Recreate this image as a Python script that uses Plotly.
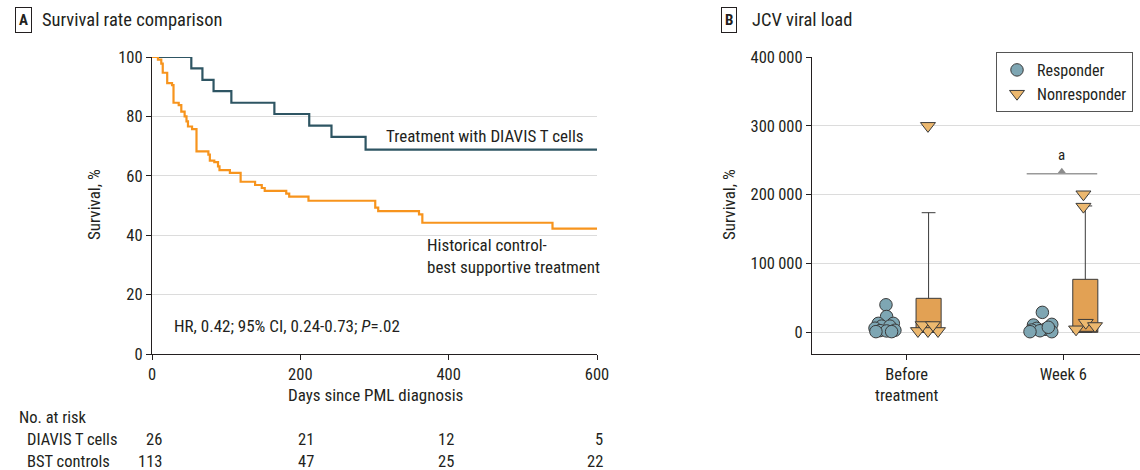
import plotly.graph_objects as go

# ---------------- Panel A data ----------------
diavis_days = [0, 53, 68, 83, 107, 165, 212, 242, 288, 600]
diavis_surv = [100, 96.2, 92.3, 88.5, 84.6, 80.8, 76.9, 73.1, 68.8, 68.8]

bst_days = [0, 8, 12.5, 14.5, 20.5, 27, 29, 36, 39.5, 44, 46.5, 48.5, 54, 60, 76, 78, 84, 89, 91,
            105, 119.5, 139, 148, 152, 181, 185, 211, 301, 305, 360, 364.5, 540, 600]
bst_surv = [100, 99.1, 97.8, 94.7, 91.2, 90.5, 84.6, 83.8, 81.6, 80.0, 78.3, 76.6, 75.7, 68.2, 67.1,
            65.1, 64.6, 63.2, 61.9, 61.0, 58.0, 56.9, 55.9, 54.9, 54.0, 53.0, 51.6, 49.3, 48.1, 47.0,
            44.2, 42.2, 42.2]

risk_days = [0, 200, 400, 600]
risk_diavis = [26, 21, 12, 5]
risk_bst = [113, 47, 25, 22]

# ---------------- Panel B data ----------------
categories = ["Before<br>treatment", "Week 6"]
resp_before = [40000, 23000, 13000, 13000, 9000, 9000, 6000, 2500, 2000, 3000, 1000, 1000]
resp_before_jit = [-0.132, -0.128, -0.181, -0.085, -0.160, -0.107, -0.202, -0.170, -0.128, -0.075, -0.196, -0.096]
resp_week6 = [29000, 11600, 10600, 5800, 4400, 3300, 2300, 900, 900, 7300]
resp_week6_jit = [-0.134, -0.074, -0.191, -0.170, -0.117, -0.202, -0.149, -0.074, -0.213, -0.096]
non_before = [300000, 2000, 2000, 2000, 10600, 10600]
non_before_jit = [0.136, 0.072, 0.136, 0.200, 0.102, 0.168]
non_week6 = [200600, 182600, 4400, 14000, 9200]
non_week6_jit = [0.128, 0.128, 0.081, 0.143, 0.202]
box_q3 = [49400, 77000]
box_upper = [173800, 183600]

FONT = "Liberation Sans Narrow, Arial Narrow, Roboto Condensed, DejaVu Sans Condensed, sans-serif"
TXT = "#231f20"
BLUE = "#2e5563"
ORANGE = "#f7941d"
CIRC = "#7ea6b3"
TRI = "#ecb86f"
BOXF = "#e2a154"
EDGE = "#3a3a3a"
FS = 16.5

fig = go.Figure()

# Panel A
fig.add_trace(go.Scatter(x=diavis_days, y=diavis_surv, mode="lines", line=dict(color=BLUE, width=2.2, shape="hv"),
                         showlegend=False, xaxis="x", yaxis="y"))
fig.add_trace(go.Scatter(x=bst_days, y=bst_surv, mode="lines", line=dict(color=ORANGE, width=2.2, shape="hv"),
                         showlegend=False, xaxis="x", yaxis="y"))

# Panel B boxes
for i in range(2):
    fig.add_trace(go.Box(x=[i + 0.14], q1=[0], median=[0], q3=[box_q3[i]], lowerfence=[0],
                         upperfence=[box_upper[i]], width=0.16, whiskerwidth=0.55,
                         fillcolor=BOXF, line=dict(color=EDGE, width=1), boxpoints=False,
                         showlegend=False, xaxis="x2", yaxis="y2", hoverinfo="skip"))

rx = [j for j in resp_before_jit] + [1 + j for j in resp_week6_jit]
ry = resp_before + resp_week6
nx = [j for j in non_before_jit] + [1 + j for j in non_week6_jit]
ny = non_before + non_week6
fig.add_trace(go.Scatter(x=rx, y=ry, mode="markers", name="Responder",
                         marker=dict(symbol="circle", size=12.5, color=CIRC, line=dict(color=EDGE, width=1)),
                         xaxis="x2", yaxis="y2"))
fig.add_trace(go.Scatter(x=nx, y=ny, mode="markers", name="Nonresponder",
                         marker=dict(symbol="triangle-down", size=13, color=TRI, line=dict(color=EDGE, width=1)),
                         xaxis="x2", yaxis="y2"))
# significance marker
fig.add_trace(go.Scatter(x=[0.99], y=[234000], mode="markers", showlegend=False,
                         marker=dict(symbol="triangle-up", size=7, color="#8c8c8c"), xaxis="x2", yaxis="y2",
                         hoverinfo="skip"))

W, H = 1140, 470
def px(v):
    return v / W
def py(v):
    return 1 - v / H

ydom = [py(354), py(57)]
axis_common = dict(showline=True, linecolor=TXT, linewidth=1.2, ticks="outside", ticklen=5, tickcolor=TXT,
                   tickfont=dict(family=FONT, size=FS, color=TXT), zeroline=False, automargin=False)

fig.update_layout(
    width=W, height=H, margin=dict(l=0, r=0, t=0, b=0, pad=0, autoexpand=False),
    paper_bgcolor="white", plot_bgcolor="white",
    font=dict(family=FONT, size=FS, color=TXT),
    xaxis=dict(domain=[px(152), px(597)], range=[0, 600], tickvals=[0, 200, 400, 600], showgrid=False,
               anchor="y", **axis_common),
    yaxis=dict(domain=ydom, range=[0, 100], tickvals=[0, 20, 40, 60, 80, 100], showgrid=True,
               gridcolor="#dcdcdc", gridwidth=1, anchor="x", **axis_common),
    xaxis2=dict(domain=[px(812), 1.0], range=[-0.604, 1.489], tickvals=[0, 1], ticktext=categories,
                showgrid=False, anchor="y2", **axis_common),
    yaxis2=dict(domain=ydom, range=[-31500, 400000], tickvals=[0, 100000, 200000, 300000, 400000],
                ticktext=["0", "100\u2009000", "200\u2009000", "300\u2009000", "400\u2009000"],
                showgrid=True, gridcolor="#dcdcdc", gridwidth=1, anchor="x2", **axis_common),
    legend=dict(x=px(996), y=py(52), xanchor="left", yanchor="top", bgcolor="white",
                bordercolor="#555", borderwidth=1, font=dict(family=FONT, size=16, color=TXT),
                itemwidth=30, tracegroupgap=0),
    shapes=[dict(type="line", xref="x2", yref="y2", x0=0.766, x1=1.216, y0=230500, y1=230500,
                 line=dict(color="#9a9a9a", width=1.5))],
)

ann = []
def text(x, y, t, xanchor="left", size=FS, **kw):
    ann.append(dict(x=x, y=y, xref="paper", yref="paper", text=t, showarrow=False, xanchor=xanchor,
                    yanchor="middle", font=dict(family=FONT, size=size, color=TXT), **kw))

# panel labels
text(px(23), py(20), "<b>A</b>", xanchor="center", size=15, bordercolor=TXT, borderwidth=1, borderpad=3)
text(px(40), py(20), "Survival rate comparison", size=18.5)
text(px(729), py(20), "<b>B</b>", xanchor="center", size=15, bordercolor=TXT, borderwidth=1, borderpad=3)
text(px(750), py(20), "JCV viral load", size=18.5)

# axis titles
text(px(94), py(205), "Survival, %", xanchor="center", textangle=-90, size=17)
text(px(729), py(205), "Survival, %", xanchor="center", textangle=-90, size=17)
text(px(375), py(395), "Days since PML diagnosis", xanchor="center", size=17)

# curve labels
text(px(586), py(136), "Treatment with DIAVIS T cells", xanchor="right", size=17)
ann.append(dict(x=px(425), y=py(256), xref="paper", yref="paper",
                text="Historical control-<br>best supportive treatment", showarrow=False, xanchor="left",
                yanchor="middle", align="left", font=dict(family=FONT, size=17, color=TXT)))
text(px(172), py(326), "HR, 0.42; 95% CI, 0.24-0.73; <i>P</i>=.02", size=17)

# significance label
ann.append(dict(x=0.99, y=257000, xref="x2", yref="y2", text="a", showarrow=False,
                font=dict(family=FONT, size=15, color=TXT)))

# risk table
text(px(17), py(417), "No. at risk")
text(px(25), py(439), "DIAVIS T cells")
text(px(25), py(461), "BST controls")
risk_right_px = [164, 316, 456, 605]
for k in range(len(risk_days)):
    text(px(risk_right_px[k]), py(439), str(risk_diavis[k]), xanchor="right")
    text(px(risk_right_px[k]), py(461), str(risk_bst[k]), xanchor="right")

fig.update_layout(annotations=ann)
fig.write_html("out.html", config={"displayModeBar": False},
               post_script="document.body.style.margin='0px';document.body.style.overflow='hidden';")
